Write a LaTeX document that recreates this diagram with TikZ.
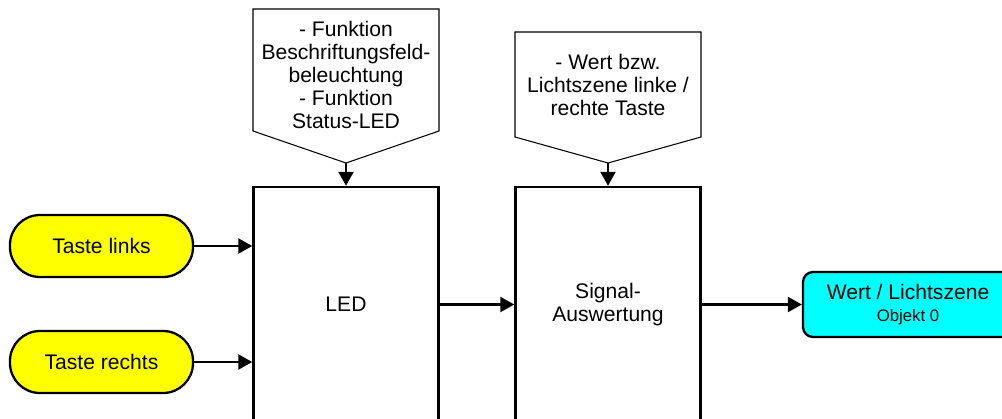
\documentclass[tikz,border=0pt]{standalone}
\usepackage{fontspec}
\setmainfont{Liberation Sans}
\usetikzlibrary{arrows.meta,positioning,calc}
\definecolor{tastegelb}{RGB}{255,255,0}
\definecolor{ausgangcyan}{RGB}{0,255,255}

\begin{document}
\begin{tikzpicture}[
        taste/.style={draw, line width=1.3pt, fill=tastegelb, rounded corners=0.6cm, minimum width=3.66cm,
                        minimum height=1.24cm, align=center, font=\fontsize{12}{13.2}\selectfont},
        block/.style={draw, line width=1.4pt, fill=white, minimum width=3.7cm,
                        minimum height=4.7cm, align=center, font=\fontsize{12}{13.2}\selectfont},
        ausgang/.style={draw, line width=1.3pt, fill=ausgangcyan, rounded corners=0.2cm, minimum width=4.2cm,
                        minimum height=1.3cm, align=center, font=\fontsize{12}{13.2}\selectfont},
        hinweis/.style={draw, line width=0.6pt, fill=white},
        info/.style={align=center, font=\fontsize{12}{13.2}\selectfont},
        arrow/.style={-{Triangle[length=0.28cm, width=0.3cm]}, line width=1.3pt}
    ]
    \useasboundingbox (0,0) rectangle (20.04,8.36);

    % ---- Hinweise (Parameter) ----
    \draw[hinweis] (5.06,8.18) -- (8.78,8.18) -- (8.78,5.74) -- (6.92,5.10) coordinate (tip1)
        -- (5.06,5.74) -- cycle;
    \node[info] (info1) at (6.92,6.86) {- Funktion\\Beschriftungsfeld-\\beleuchtung\\- Funktion\\Status-LED};

    \draw[hinweis] (10.30,7.72) -- (14.02,7.72) -- (14.02,5.62) -- (12.16,5.10) coordinate (tip2)
        -- (10.30,5.62) -- cycle;
    \node[info] (info2) at (12.16,6.66) {- Wert bzw.\\Lichtszene linke /\\rechte Taste};

    % ---- Eingaenge ----
    \node[taste] (taste1) at (2.03,3.44) {Taste links};
    \node[taste] (taste2) at (2.03,1.12) {Taste rechts};

    % ---- Bloecke ----
    \node[block] (led) at (6.92,2.27) {LED};
    \node[block] (signal) at (12.16,2.27) {Signal-\\Auswertung};

    % ---- Ausgang ----
    \node[ausgang] (wert) at (18.16,2.27) {Wert / Lichtszene\\[-1pt]{\fontsize{9.5}{11}\selectfont Objekt 0}};

    % Pfeile
    \draw[arrow] (taste1) -- (taste1 -| led.west);
    \draw[arrow] (taste2) -- (taste2 -| led.west);
    \draw[arrow] (led) -- (signal);
    \draw[arrow] (signal) -- (wert);
    \draw[arrow] (tip1) -- (led);
    \draw[arrow] (tip2) -- (signal);

\end{tikzpicture}
\end{document}
